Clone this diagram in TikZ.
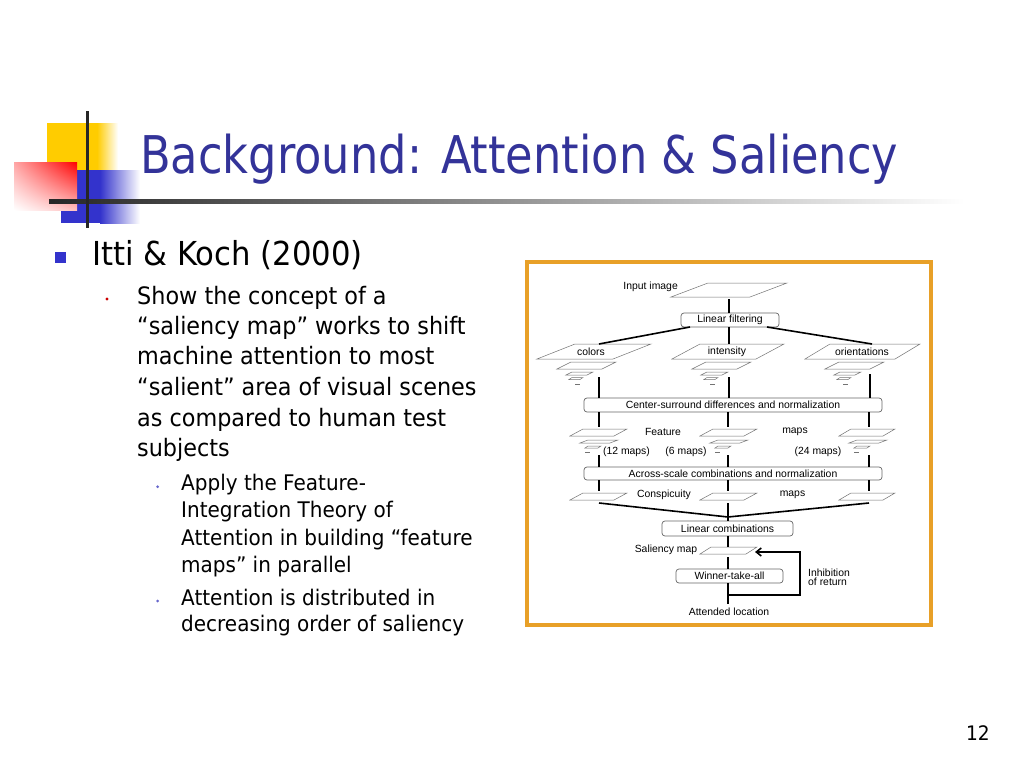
\documentclass[tikz,border=0pt]{standalone}
\usepackage{fontspec}
\setmainfont[FakeStretch=0.93]{DejaVu Sans}
\newfontfamily\titlefont[FakeStretch=0.86]{DejaVu Sans}
\newfontfamily\diagfont{Liberation Sans}
\usetikzlibrary{arrows.meta,shadings}
\definecolor{titleblue}{RGB}{51,51,153}
\definecolor{bulblue}{RGB}{51,51,204}
\definecolor{frameorange}{RGB}{232,160,40}
\definecolor{logoyellow}{RGB}{255,204,0}
\definecolor{bulred}{RGB}{204,0,0}
\definecolor{bulpurple}{RGB}{102,102,204}
\tikzset{
 box/.style={draw=black!60, line width=0.7bp, rounded corners=3bp, inner sep=0pt, font=\diagfont\fontsize{10.4bp}{12bp}\selectfont, fill=white},
 conn/.style={line width=1.6bp, draw=black},
 planeline/.style={draw=black!55, line width=0.5bp},
 dlabel/.style={inner sep=0pt, font=\diagfont\fontsize{10.4bp}{12bp}\selectfont},
 lineA/.style={anchor=base west, inner sep=0pt, font=\fontsize{33bp}{40bp}\selectfont},
 lineB/.style={anchor=base west, inner sep=0pt, font=\fontsize{24bp}{30bp}\selectfont},
 lineC/.style={anchor=base west, inner sep=0pt, font=\fontsize{21.5bp}{27bp}\selectfont},
}
\newcommand{\mplane}[5]{\draw[planeline] (#1,#2) -- ++(#3,0) -- ++(#4,-#5) -- ++(-#3,0) -- cycle;}
\newcommand{\bigstack}[5]{%
 \mplane{#1}{#2}{#3}{#4}{#5}
 \mplane{#1+20}{#2+10}{45}{14}{7}
 \mplane{#1+29}{#2+16}{21}{6}{3}
 \mplane{#1+32}{#2+20.5}{11}{3}{2}
 \draw[planeline] (#1+38,#2+25.5) -- (#1+43,#2+25.5);}
\newcommand{\smallstack}[5]{%
 \mplane{#1}{#2}{#3}{#4}{#5}
 \mplane{#1+10}{#2+7}{30}{8}{3}
 \mplane{#1+15}{#2+12}{13}{3}{2}
 \draw[planeline] (#1+15,#2+16) -- (#1+20,#2+16);}
\begin{document}
\begin{tikzpicture}[x=1bp,y=-1bp]
\useasboundingbox (0,0) rectangle (1024,768);
\fill[white] (0,0) rectangle (1024,768);
% logo
\fill[logoyellow] (47,123) rectangle (97,170);
\shade[left color=logoyellow, right color=white] (97,123) rectangle (118,170);
\fill[bulblue] (61,170) rectangle (100,223);
\shade[left color=bulblue, right color=white] (100,170) rectangle (140,223);
\shade[upper left=red!35!white, upper right=red, lower left=white, lower right=red!25!white] (14,162) rectangle (77,210);
\shade[left color=black!85, right color=white] (49,199) rectangle (965,203.5);
\fill[black!85] (85.5,111) rectangle (88.5,228);
% title
\node[anchor=base west, inner sep=0pt, text=titleblue, font=\titlefont\fontsize{52bp}{60bp}\selectfont] (title) at (140,173) {Background: Attention \& Saliency};
% bullets
\fill[bulblue] (55,252) rectangle (66,263);
\node[lineA] (l1) at (92,265) {Itti \& Koch (2000)};
\fill[bulred] (107,299) circle (1.6);
\node[lineB] (l2a) at (137,304) {Show the concept of a};
\node[lineB] (l2b) at (137,334.3) {“saliency map” works to shift};
\node[lineB] (l2c) at (137,364.7) {machine attention to most};
\node[lineB] (l2d) at (137,395.7) {“salient” area of visual scenes};
\node[lineB] (l2e) at (137,426) {as compared to human test};
\node[lineB] (l2f) at (137,456.7) {subjects};
\fill[bulpurple] (157.7,486.7) circle (1.5);
\node[lineC] (l3a) at (181,490) {Apply the Feature-};
\node[lineC] (l3b) at (181,517.3) {Integration Theory of};
\node[lineC] (l3c) at (181,545) {Attention in building “feature};
\node[lineC] (l3d) at (181,572.7) {maps” in parallel};
\fill[bulpurple] (157.7,601) circle (1.5);
\node[lineC] (l3e) at (181,605.7) {Attention is distributed in};
\node[lineC] (l3f) at (181,631.7) {decreasing order of saliency};
\node[anchor=base east, inner sep=0pt, font=\fontsize{20bp}{24bp}\selectfont] (pg) at (990,740) {12};
% frame
\draw[frameorange, line width=4bp] (527,262) rectangle (931,625);
% diagram planes
\mplane{671}{297}{79}{37}{14}
\node[dlabel, anchor=east] (iilab) at (678,287) {Input image};
\bigstack{537}{359}{76}{38}{15}
\bigstack{672}{359}{84}{28}{15}
\bigstack{805}{359}{90}{25}{15}
\node[dlabel] (colab) at (591,352) {colors};
\node[dlabel] (intlab) at (727,352) {intensity};
\node[dlabel] (orilab) at (862,352) {orientations};
\smallstack{570}{436}{44}{13}{7}
\smallstack{700}{436}{44}{13}{7}
\smallstack{839}{436}{44}{12}{7}
\node[dlabel] (featlab) at (663,432) {Feature};
\node[dlabel] (mapslab) at (795,432) {maps};
\node[dlabel] (m12) at (626.5,452) {(12 maps)};
\node[dlabel] (m6) at (686,452) {(6 maps)};
\node[dlabel] (m24) at (818,452) {(24 maps)};
\mplane{570}{500}{44}{13}{7}
\mplane{700}{500}{44}{13}{7}
\mplane{839}{500}{44}{12}{7}
\node[dlabel] (conslab) at (664,495) {Conspicuity};
\node[dlabel] (cmapslab) at (792.5,495) {maps};
\mplane{700}{554}{46}{11}{7}
\node[dlabel] (sallab) at (666,549.5) {Saliency map};
% boxes
\node[box, minimum width=98bp, minimum height=14bp] (lf) at (730,320) {Linear filtering};
\node[box, minimum width=298bp, minimum height=14bp] (cs) at (733,405) {Center-surround differences and normalization};
\node[box, minimum width=298bp, minimum height=13bp] (as) at (733,473.5) {Across-scale combinations and normalization};
\node[box, minimum width=131bp, minimum height=15bp] (lc) at (727.5,528.5) {Linear combinations};
\node[box, minimum width=107bp, minimum height=14bp] (wta) at (729.5,576) {Winner-take-all};
\node[dlabel] (att) at (729,612) {Attended location};
\node[dlabel, anchor=west] (inh1) at (808,573) {Inhibition};
\node[dlabel, anchor=west] (inh2) at (808,582) {of return};
% coordinates
\coordinate (iiB) at (729,299);
\coordinate (lfL) at (690,327);
\coordinate (colT) at (599,344);
\coordinate (lfR) at (767,327);
\coordinate (oriT) at (872,344);
\coordinate (intT) at (729,344);
\coordinate (colB) at (599,377);
\coordinate (intB) at (729,377);
\coordinate (oriB) at (870,374);
\coordinate (fT1) at (599,427);
\coordinate (fT2) at (728,427);
\coordinate (fT3) at (869,427);
\coordinate (fB1) at (599,455);
\coordinate (fB2) at (728,455);
\coordinate (fB3) at (869,455);
\coordinate (cT1) at (599,491);
\coordinate (cT2) at (728,491);
\coordinate (cT3) at (869,491);
\coordinate (cB1) at (599,503);
\coordinate (cB2) at (728,503);
\coordinate (cB3) at (869,503);
\coordinate (M) at (728,517);
\coordinate (salT) at (728,547);
\coordinate (salB) at (728,557);
\coordinate (attB) at (728,604);
\coordinate (iorA) at (728,595);
\coordinate (iorR1) at (800,595);
\coordinate (iorR2) at (800,552);
\coordinate (iorC) at (755,552);
% connectors
\draw[conn] (iiB) -- (iiB |- lf.north);
\draw[conn] (lfL) -- (colT);
\draw[conn] (lfR) -- (oriT);
\draw[conn] (intT |- lf.south) -- (intT);
\draw[conn] (colB) -- (colB |- cs.north);
\draw[conn] (intB) -- (intB |- cs.north);
\draw[conn] (oriB) -- (oriB |- cs.north);
\draw[conn] (fT1 |- cs.south) -- (fT1);
\draw[conn] (fT2 |- cs.south) -- (fT2);
\draw[conn] (fT3 |- cs.south) -- (fT3);
\draw[conn] (fB1) -- (fB1 |- as.north);
\draw[conn] (fB2) -- (fB2 |- as.north);
\draw[conn] (fB3) -- (fB3 |- as.north);
\draw[conn] (cT1 |- as.south) -- (cT1);
\draw[conn] (cT2 |- as.south) -- (cT2);
\draw[conn] (cT3 |- as.south) -- (cT3);
\draw[conn] (cB1) -- (M);
\draw[conn] (cB3) -- (M);
\draw[conn] (cB2) -- (cB2 |- lc.north);
\draw[conn] (salT |- lc.south) -- (salT);
\draw[conn] (salB) -- (salB |- wta.north);
\draw[conn] (attB |- wta.south) -- (attB);
\draw[conn, -{Straight Barb[length=5bp,width=8bp]}] (iorA) -- (iorR1) -- (iorR2) -- (iorC);
\end{tikzpicture}
\end{document}
